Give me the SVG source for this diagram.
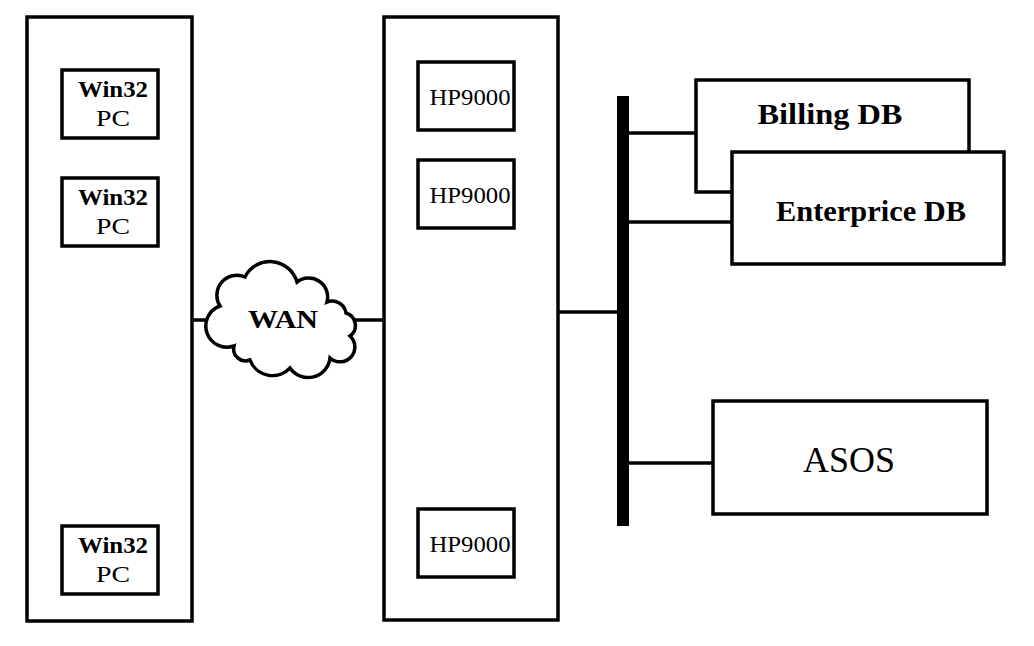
<svg xmlns="http://www.w3.org/2000/svg" width="1034" height="646" viewBox="0 0 1034 646">
<style>
.box{fill:#fff;stroke:#000;stroke-width:3.5}
.ln{stroke:#000;stroke-width:3.5;fill:none}
.t{font-family:"Liberation Serif","Times New Roman",serif;fill:#000;text-anchor:middle}
.b{font-weight:bold}
</style>
<rect width="1034" height="646" fill="#fff"/>
<g id="connectors">
<line class="ln" x1="192" y1="320" x2="230" y2="320"/>
<line class="ln" x1="350" y1="320" x2="384" y2="320"/>
<line class="ln" x1="558" y1="312" x2="620" y2="312"/>
<rect x="617" y="96" width="12" height="430" fill="#000"/>
<line class="ln" x1="629" y1="133" x2="696" y2="133"/>
<line class="ln" x1="629" y1="222" x2="732" y2="222"/>
<line class="ln" x1="629" y1="463" x2="713" y2="463"/>
</g>
<g id="client-site">
<rect class="box" x="27" y="17" width="165" height="604"/>
</g>
<g id="pc1"><rect class="box" x="62" y="70" width="96" height="68"/>
<text class="t b" x="113" y="97" font-size="23" textLength="70" lengthAdjust="spacingAndGlyphs">Win32</text>
<text class="t" x="113" y="126" font-size="23" textLength="34" lengthAdjust="spacingAndGlyphs">PC</text></g>
<g id="pc2"><rect class="box" x="62" y="178" width="96" height="68"/>
<text class="t b" x="113" y="205" font-size="23" textLength="70" lengthAdjust="spacingAndGlyphs">Win32</text>
<text class="t" x="113" y="234" font-size="23" textLength="34" lengthAdjust="spacingAndGlyphs">PC</text></g>
<g id="pc3"><rect class="box" x="62" y="526" width="96" height="68"/>
<text class="t b" x="113" y="553" font-size="23" textLength="70" lengthAdjust="spacingAndGlyphs">Win32</text>
<text class="t" x="113" y="582" font-size="23" textLength="34" lengthAdjust="spacingAndGlyphs">PC</text></g>
<g id="wan">
<path class="box" d="M 234,346 A 20 20 0 0 1 220,306 A 20 20 0 0 1 245,277 A 28 28 0 0 1 297,282 A 19 19 0 0 1 327,302 A 14 14 0 0 1 346,313 A 13 13 0 0 1 350,336 A 14 14 0 0 1 330,358 A 22 22 0 0 1 290,368 A 24 24 0 0 1 250,360 A 12 12 0 0 1 234,346 Z"/>
<text class="t b" x="283" y="328" font-size="25" textLength="70" lengthAdjust="spacingAndGlyphs">WAN</text>
</g>
<g id="server-site">
<rect class="box" x="384" y="17" width="174" height="603"/>
</g>
<g id="hp1"><rect class="box" x="418" y="62" width="96" height="68"/>
<text class="t" x="470" y="105" font-size="24" textLength="81" lengthAdjust="spacingAndGlyphs">HP9000</text></g>
<g id="hp2"><rect class="box" x="418" y="160" width="96" height="68"/>
<text class="t" x="470" y="203" font-size="24" textLength="81" lengthAdjust="spacingAndGlyphs">HP9000</text></g>
<g id="hp3"><rect class="box" x="418" y="509" width="96" height="68"/>
<text class="t" x="470" y="552" font-size="24" textLength="81" lengthAdjust="spacingAndGlyphs">HP9000</text></g>
<g id="billing-db"><rect class="box" x="696" y="80" width="273" height="112"/>
<text class="t b" x="830" y="124" font-size="30" textLength="145" lengthAdjust="spacingAndGlyphs">Billing DB</text></g>
<g id="enterprice-db"><rect class="box" x="732" y="152" width="272" height="112"/>
<text class="t b" x="871" y="221" font-size="30" textLength="190" lengthAdjust="spacingAndGlyphs">Enterprice DB</text></g>
<g id="asos"><rect class="box" x="713" y="401" width="274" height="113"/>
<text class="t" x="849" y="472" font-size="36" textLength="92" lengthAdjust="spacingAndGlyphs">ASOS</text></g>
</svg>
